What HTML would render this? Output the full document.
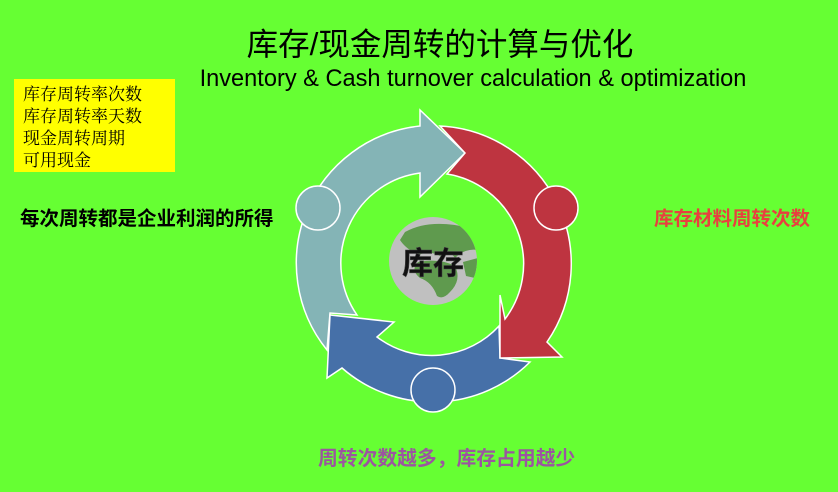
<!DOCTYPE html>
<html><head><meta charset="utf-8"><style>
body{margin:0;width:838px;height:492px;background:#66ff33;position:relative;overflow:hidden;font-family:"Liberation Sans","Noto Sans CJK SC",sans-serif}
.t{position:absolute;white-space:nowrap}
</style></head><body>
<div class="t" style="left:0;width:880px;text-align:center;top:19px;font-size:31.5px;color:#000">库存/现金周转的计算与优化</div>
<div class="t" style="left:0;width:946px;text-align:center;top:66px;font-size:23.6px;color:#000">Inventory &amp; Cash turnover calculation &amp; optimization</div>
<div class="t" style="left:14px;top:79px;width:161px;height:93px;background:#ffff00;box-sizing:border-box;padding:3px 0 0 9px;font-family:'Noto Serif CJK SC','Liberation Serif',serif;font-size:17px;line-height:22px;color:#000">库存周转率次数<br>库存周转率天数<br>现金周转周期<br>可用现金</div>
<div class="t" style="left:20px;top:202px;font-size:19.5px;font-weight:bold;color:#000">每次周转都是企业利润的所得</div>
<div class="t" style="left:654px;top:202px;font-size:19.5px;font-weight:bold;color:#e8403f">库存材料周转次数</div>
<div class="t" style="left:318px;top:442px;font-size:19.8px;font-weight:bold;color:#9b55a0">周转次数越多，库存占用越少</div>
<svg width="838" height="492" style="position:absolute;left:0;top:0">
<g stroke="#fff" stroke-width="1.5" stroke-linejoin="miter">
<path fill="#84b4b6" d="M327,350 A138,138 0 0 1 420,126 L420,110 L465,153 L420,197 L420,173 A91,91 0 0 0 357,315 L330,313 Z"/>
<path fill="#4670a8" d="M530,362 A138,138 0 0 1 342,368 L327,378 L330,315 L394,322 L377,337 A91,91 0 0 0 499,326 L500,358 Z"/>
<path fill="#be3440" d="M440,126 A138,138 0 0 1 547,342 L562,357 L500,358 L500,295 L505,319 A91,91 0 0 0 447,174 L465,153 Z"/>
<circle cx="318" cy="208" r="22" fill="#84b4b6"/>
<circle cx="556" cy="208" r="22" fill="#be3440"/>
<circle cx="433" cy="390" r="22" fill="#4670a8"/>
</g>
<defs><clipPath id="g"><circle cx="433" cy="261" r="44"/></clipPath></defs>
<circle cx="433" cy="261" r="44" fill="#c0c0c0"/>
<g clip-path="url(#g)" fill="#5f9a4e">
<path d="M405,232 Q430,218 470,228 L478,250 Q465,248 455,258 Q450,250 440,256 Q430,250 418,255 Q405,248 400,240 Z"/>
<path d="M418,262 Q440,258 455,266 Q462,280 450,292 Q443,300 437,296 Q432,282 420,278 Q410,270 418,262 Z"/>
<path d="M463,262 L478,258 L475,278 L466,276 Z"/>
</g>
<text x="433" y="274" text-anchor="middle" font-size="31" font-weight="bold" fill="#111" style="font-family:'Noto Sans CJK SC',sans-serif" stroke="#444" stroke-width="0.5">库存</text>
</svg>
</body></html>
